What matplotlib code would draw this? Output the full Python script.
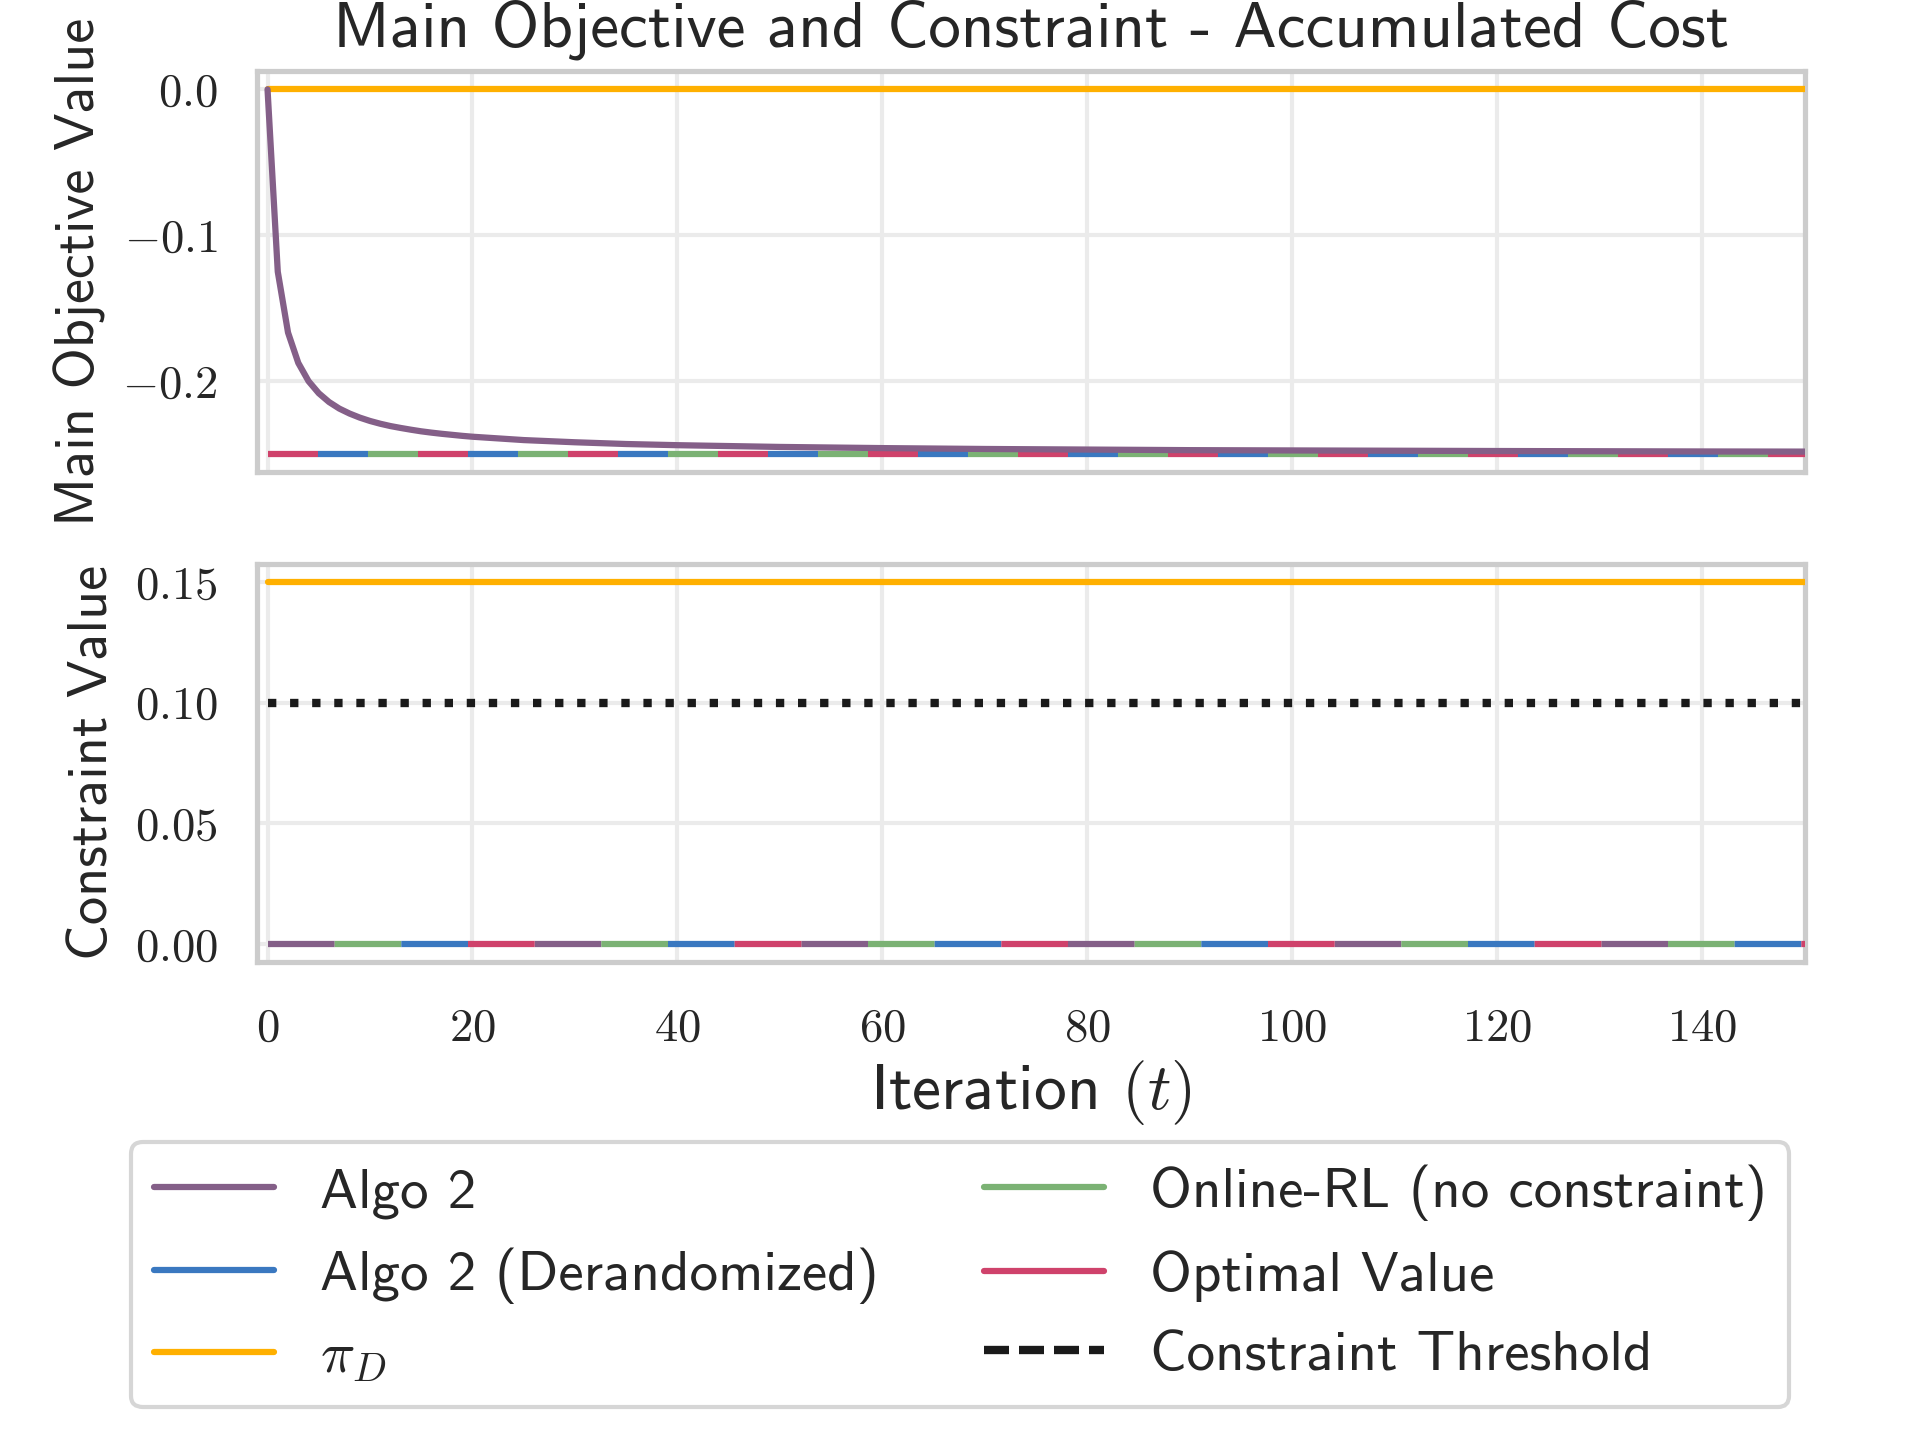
import matplotlib
matplotlib.use("Agg")
import matplotlib.pyplot as plt
from matplotlib.lines import Line2D
from matplotlib.ticker import FuncFormatter, MultipleLocator

# ---------------- data ----------------
iter_t = [0, 1, 2, 3, 4, 5, 6, 7, 8, 9, 10, 11, 12, 13, 14, 15, 16, 17, 18, 19, 20,
          25, 30, 35, 40, 50, 60, 70, 80, 90, 100, 120, 140, 150]
algo2_obj = [0.0, -0.125, -0.1667, -0.1875, -0.2, -0.2083, -0.2143, -0.2188, -0.2222,
             -0.225, -0.2273, -0.2292, -0.2308, -0.2321, -0.2333, -0.2344, -0.2353,
             -0.2361, -0.2368, -0.2375, -0.2381, -0.2404, -0.2419, -0.2431, -0.2439,
             -0.2451, -0.2459, -0.2465, -0.2469, -0.2473, -0.2475, -0.2479, -0.2482,
             -0.2483]
t_span = [0, 150]
obj_piD = [0.0, 0.0]
obj_derand = [-0.25, -0.25]
obj_online = [-0.25, -0.25]
obj_optimal = [-0.25, -0.25]

con_piD = [0.15, 0.15]
con_threshold = [0.10, 0.10]
con_algo2 = [0.0, 0.0]
con_derand = [0.0, 0.0]
con_online = [0.0, 0.0]
con_optimal = [0.0, 0.0]

labels = ["Algo 2", "Algo 2 (Derandomized)", r"$\pi_D$",
          "Online-RL (no constraint)", "Optimal Value", "Constraint Threshold"]
x_ticks = [0, 20, 40, 60, 80, 100, 120, 140]

# ---------------- style ----------------
C_PURPLE = "#845f88"
C_BLUE = "#3a78c0"
C_ORANGE = "#ffb000"
C_GREEN = "#7bb274"
C_RED = "#cf426b"
C_BLACK = "#1a1a1a"
TXT = "#262626"

plt.rcParams.update({
    "font.family": ["cmss10", "DejaVu Sans"],
    "mathtext.fontset": "cm",
    "axes.unicode_minus": False,
    "axes.edgecolor": "#cccccc",
    "axes.linewidth": 1.25,
    "axes.labelcolor": TXT,
    "text.color": TXT,
    "xtick.color": TXT,
    "ytick.color": TXT,
    "grid.color": "#ebebeb",
    "grid.linewidth": 1.0,
    "lines.scale_dashes": False,
    "lines.solid_capstyle": "round",
})

fig = plt.figure(figsize=(6.4, 4.8), dpi=300)
ax1 = fig.add_axes([0.134, 0.672, 0.806, 0.2786])
ax2 = fig.add_axes([0.134, 0.332, 0.806, 0.2765], sharex=ax1)

LW = 1.5

for ax in (ax1, ax2):
    ax.set_facecolor("white")
    ax.grid(True, zorder=0)
    ax.set_axisbelow(True)
    ax.tick_params(axis="both", which="both", left=False, bottom=False,
                   labelsize=11.2)
    ax.tick_params(axis="y", pad=6)
    ax.tick_params(axis="x", pad=7.5)

# top panel
ax1.plot(t_span, obj_piD, color=C_ORANGE, lw=LW, zorder=3)
ax1.plot(t_span, obj_optimal, color=C_RED, lw=LW, linestyle=(0, (12, 24)), zorder=3)
ax1.plot(t_span, obj_derand, color=C_BLUE, lw=LW, linestyle=(24, (12, 24)), zorder=3)
ax1.plot(t_span, obj_online, color=C_GREEN, lw=LW, linestyle=(12, (12, 24)), zorder=3)
ax1.plot(iter_t, algo2_obj, color=C_PURPLE, lw=LW, zorder=4)

# bottom panel
ax2.plot(t_span, con_piD, color=C_ORANGE, lw=LW, zorder=3)
ax2.plot(t_span, con_threshold, color=C_BLACK, lw=2.0, linestyle=(0, (2, 3.3)),
         dash_capstyle="butt", zorder=3)
ax2.plot(t_span, con_algo2, color=C_PURPLE, lw=LW, linestyle=(0, (16, 48)), zorder=3)
ax2.plot(t_span, con_online, color=C_GREEN, lw=LW, linestyle=(48, (16, 48)), zorder=3)
ax2.plot(t_span, con_derand, color=C_BLUE, lw=LW, linestyle=(32, (16, 48)), zorder=3)
ax2.plot(t_span, con_optimal, color=C_RED, lw=LW, linestyle=(16, (16, 48)), zorder=3)

ax1.set_xlim(-1, 150)
ax1.set_xticks(x_ticks)
ax1.yaxis.set_major_locator(MultipleLocator(0.1))
ax2.yaxis.set_major_locator(MultipleLocator(0.05))
ax1.yaxis.set_major_formatter(FuncFormatter(lambda v, p: f"${v:.1f}$"))
ax2.yaxis.set_major_formatter(FuncFormatter(lambda v, p: f"${v:.2f}$"))
ax2.xaxis.set_major_formatter(FuncFormatter(lambda v, p: f"${v:.0f}$"))
plt.setp(ax1.get_xticklabels(), visible=False)

ax1.set_title("Main Objective and Constraint - Accumulated Cost", fontsize=15.6)
ax1.set_ylabel("Main Objective Value", fontsize=13.5)
ax2.set_ylabel("Constraint Value", fontsize=13.5)
ax2.set_xlabel(r"Iteration $(t)$", fontsize=15.7, labelpad=2)

handles = [
    Line2D([], [], color=C_PURPLE, lw=LW),
    Line2D([], [], color=C_BLUE, lw=LW),
    Line2D([], [], color=C_ORANGE, lw=LW),
    Line2D([], [], color=C_GREEN, lw=LW),
    Line2D([], [], color=C_RED, lw=LW),
    Line2D([], [], color=C_BLACK, lw=2.0, linestyle=(0, (6, 2.4)), dash_capstyle="butt"),
]
leg = fig.legend(handles, labels, ncol=2, loc="center",
                 bbox_to_anchor=(0.0683, 0.0213, 0.8637, 0.1872), mode="expand",
                 fontsize=13.7, frameon=True, fancybox=True, edgecolor="#cccccc",
                 borderaxespad=0.0, handlelength=2.1)
leg.get_frame().set_linewidth(1.0)

fig.savefig("out.png", dpi=300)
